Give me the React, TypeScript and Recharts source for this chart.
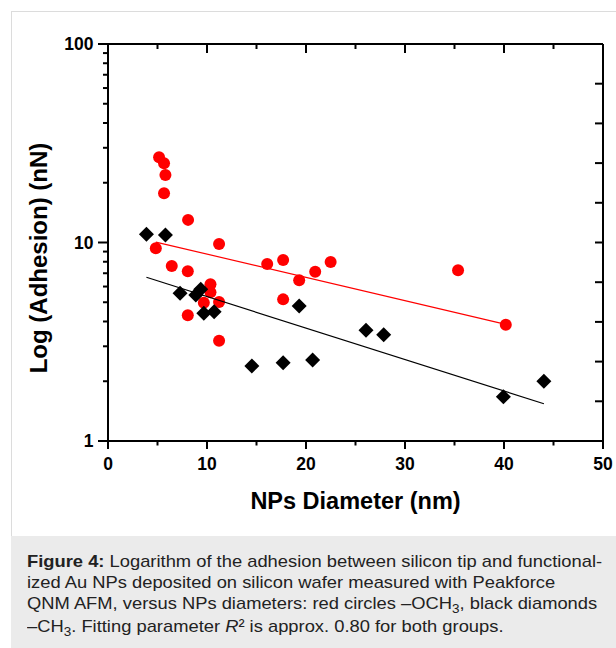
import React from 'react';
import { ScatterChart, Scatter, XAxis, YAxis, Label } from 'recharts';

// red circles: -OCH3
const redDiameter = [5.16, 5.66, 5.8, 5.66, 8.09, 11.22, 4.83, 6.44, 8.06, 8.06, 10.35, 10.35, 9.68, 11.22, 11.22, 16.08, 17.69, 17.69, 19.31, 20.93, 22.49, 35.36, 40.18];
const redAdhesion = [26.9, 25.1, 21.9, 17.7, 13.0, 9.83, 9.35, 7.61, 7.16, 4.3, 6.16, 5.61, 4.97, 5.01, 3.2, 7.79, 8.16, 5.17, 6.45, 7.13, 7.98, 7.24, 3.85];

// black diamonds: -CH3
const blackDiameter = [3.88, 5.8, 7.28, 8.87, 9.37, 9.68, 10.72, 14.53, 17.69, 19.31, 20.67, 26.06, 27.85, 39.94, 44.03];
const blackAdhesion = [11.0, 10.9, 5.55, 5.44, 5.81, 4.4, 4.48, 2.39, 2.48, 4.79, 2.56, 3.61, 3.43, 1.67, 2.0];

// fitted lines (end points)
const redFitX = [4.83, 40.18];
const redFitY = [10.05, 3.87];
const blackFitX = [3.88, 44.03];
const blackFitY = [6.68, 1.54];

const xTicks = [0, 5, 10, 15, 20, 25, 30, 35, 40, 45, 50];
const topTicks = [5, 10, 15, 20, 25, 30, 35, 40, 45];
const yTicks = [1, 2, 3, 4, 5, 6, 7, 8, 9, 10, 20, 30, 40, 50, 60, 70, 80, 90, 100];
const rightTicks = [1.585, 2.512, 3.981, 6.31, 10, 15.85, 25.12, 39.81, 63.1];

const FONT = '"Liberation Sans", Arial, sans-serif';

const toPoints = (xs: number[], ys: number[]) => xs.map((x, i) => ({ x, y: ys[i] }));

const Circle = (props: any) => <circle cx={props.cx} cy={props.cy} r={6} fill="#ff0000" />;

const Diamond = (props: any) => {
  const { cx, cy } = props;
  const d = 7.5;
  return <polygon points={`${cx},${cy - d} ${cx + d},${cy} ${cx},${cy + d} ${cx - d},${cy}`} fill="#000" />;
};

const NoShape = () => <g />;

const BottomTick = ({ x, y, payload }: any) => {
  const major = payload.value % 10 === 0;
  return (
    <g>
      <line x1={x} y1={y} x2={x} y2={y + (major ? 8 : 4.5)} stroke="#000" strokeWidth={2} />
      {major && (
        <text x={x} y={y + 29} textAnchor="middle" fontFamily={FONT} fontWeight="bold" fontSize={17.5} fill="#000">
          {payload.value}
        </text>
      )}
    </g>
  );
};

const TopTick = ({ x, y, payload }: any) => {
  const major = payload.value % 10 === 0;
  return <line x1={x} y1={y} x2={x} y2={y + (major ? 9 : 5)} stroke="#000" strokeWidth={2} />;
};

const LeftTick = ({ x, y, payload }: any) => {
  const major = [1, 10, 100].includes(payload.value);
  return (
    <g>
      <line x1={x} y1={y} x2={x - (major ? 10 : 5)} y2={y} stroke="#000" strokeWidth={2} />
      {major && (
        <text x={x - 14.5} y={y + 6} textAnchor="end" fontFamily={FONT} fontWeight="bold" fontSize={17.5} fill="#000">
          {payload.value}
        </text>
      )}
    </g>
  );
};

const RightTick = ({ x, y }: any) => <line x1={x} y1={y} x2={x - 8} y2={y} stroke="#000" strokeWidth={2} />;

const XTitle = ({ viewBox }: any) => (
  <text x={viewBox.x + viewBox.width / 2} y={viewBox.y + 68} textAnchor="middle" fontFamily={FONT} fontWeight="bold" fontSize={23.5} fill="#000">
    NPs Diameter (nm)
  </text>
);

const YTitle = () => {
  const cx = 46.5;
  const cy = 258;
  return (
    <text x={cx} y={cy} transform={`rotate(-90 ${cx} ${cy})`} textAnchor="middle" fontFamily={FONT} fontWeight="bold" fontSize={24} fill="#000">
      Log (Adhesion) (nN)
    </text>
  );
};

const sub = { fontSize: 12.5, position: 'relative' as const, top: 4 };

export default function App() {
  const axisLine = { stroke: '#000', strokeWidth: 2 };
  return (
    <div style={{ position: 'absolute', left: 0, top: 0, width: 616, height: 648, overflow: 'hidden', background: '#fff', fontFamily: FONT }}>
      <div style={{ position: 'absolute', left: 11, top: 11, width: 640, height: 660, border: '1px solid #dcdcdc', boxSizing: 'border-box' }} />
      <div style={{ position: 'absolute', left: 0, top: 0 }}>
        <ScatterChart width={616} height={530} margin={{ top: 43, right: 12, bottom: 29, left: 28 }}>
          <XAxis
            dataKey="x"
            type="number"
            domain={[0, 50]}
            ticks={xTicks}
            interval={0}
            allowDataOverflow
            height={60}
            tickSize={0}
            tickMargin={0}
            tickLine={false}
            axisLine={axisLine}
            tick={<BottomTick />}
          >
            <Label content={<XTitle />} />
          </XAxis>
          <XAxis
            xAxisId="top"
            dataKey="x"
            orientation="top"
            type="number"
            domain={[0, 50]}
            ticks={topTicks}
            interval={0}
            allowDataOverflow
            height={1}
            tickSize={0}
            tickMargin={0}
            tickLine={false}
            axisLine={axisLine}
            tick={<TopTick />}
          />
          <YAxis
            dataKey="y"
            type="number"
            scale="log"
            domain={[1, 100]}
            ticks={yTicks}
            interval={0}
            allowDataOverflow
            width={80}
            tickSize={0}
            tickMargin={0}
            tickLine={false}
            axisLine={axisLine}
            tick={<LeftTick />}
          >
            <Label content={<YTitle />} />
          </YAxis>
          <YAxis
            yAxisId="right"
            dataKey="y"
            orientation="right"
            type="number"
            scale="log"
            domain={[1, 100]}
            ticks={rightTicks}
            interval={0}
            allowDataOverflow
            width={1}
            tickSize={0}
            tickMargin={0}
            tickLine={false}
            axisLine={axisLine}
            tick={<RightTick />}
          />
          <Scatter data={toPoints(redDiameter, redAdhesion)} shape={<Circle />} fill="#ff0000" isAnimationActive={false} />
          <Scatter data={toPoints(blackDiameter, blackAdhesion)} shape={<Diamond />} fill="#000" isAnimationActive={false} />
          <Scatter
            xAxisId="top"
            yAxisId="right"
            data={toPoints(redFitX, redFitY)}
            line={{ stroke: '#ff0000', strokeWidth: 1.2 }}
            lineType="joint"
            shape={<NoShape />}
            isAnimationActive={false}
          />
          <Scatter
            xAxisId="top"
            yAxisId="right"
            data={toPoints(blackFitX, blackFitY)}
            line={{ stroke: '#000', strokeWidth: 1.2 }}
            lineType="joint"
            shape={<NoShape />}
            isAnimationActive={false}
          />
        </ScatterChart>
      </div>
      <div
        style={{
          position: 'absolute',
          left: 11,
          top: 536,
          width: 605,
          height: 112,
          background: '#ebebeb',
          color: '#222',
          fontSize: 17,
          lineHeight: '21px',
          paddingLeft: 16,
          paddingTop: 15,
          boxSizing: 'border-box',
          whiteSpace: 'nowrap',
        }}
      >
        <div style={{ transform: 'scaleX(1.079)', transformOrigin: 'left top' }}>
          <div>
            <b>Figure 4:</b> Logarithm of the adhesion between silicon tip and functional-
          </div>
          <div>ized Au NPs deposited on silicon wafer measured with Peakforce</div>
          <div>
            QNM AFM, versus NPs diameters: red circles –OCH<span style={sub}>3</span>, black diamonds
          </div>
          <div>
            –CH<span style={sub}>3</span>. Fitting parameter <i>R</i>² is approx. 0.80 for both groups.
          </div>
        </div>
      </div>
    </div>
  );
}
